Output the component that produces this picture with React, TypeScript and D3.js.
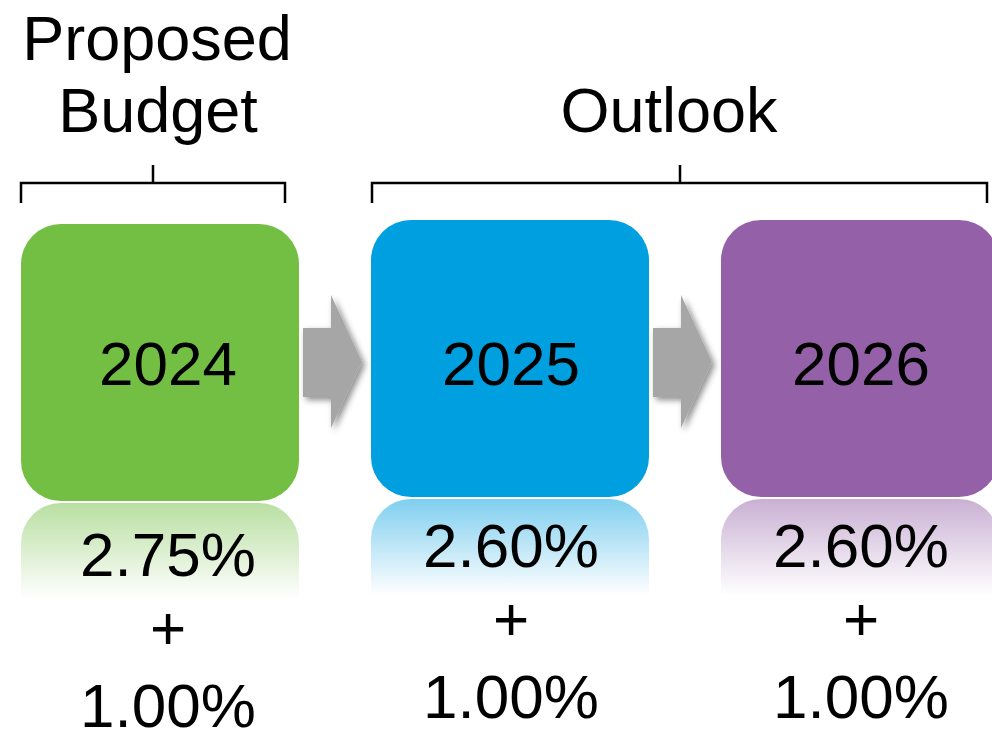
import React from "react";
import * as d3 from "d3";

const years = ["2024", "2025", "2026"];
const baseRates = ["2.75%", "2.60%", "2.60%"];
const extraRates = ["1.00%", "1.00%", "1.00%"];
const boxColors = ["#72bf44", "#009fdf", "#9461a8"];
const groupLabels = [["Proposed", "Budget"], ["Outlook"]];

const W = 992;
const H = 734;
const FONT = "'Liberation Sans', Arial, sans-serif";

export default function App() {
  const x = d3.scaleBand<string>().domain(years).range([21, 999]).paddingInner(72 / 350).paddingOuter(0);
  const bw = x.bandwidth();
  const boxTop = [224, 220, 220];
  const boxH = 277;
  const r = 40;
  const textDx = [8, 1, 1];
  const lowDy = [9, 0, 0];
  const reflH = 96;

  const roundRect = (x0: number, y0: number, w: number, h: number, rad: number) => {
    const p = d3.path();
    p.moveTo(x0 + rad, y0);
    p.lineTo(x0 + w - rad, y0);
    p.arcTo(x0 + w, y0, x0 + w, y0 + rad, rad);
    p.lineTo(x0 + w, y0 + h - rad);
    p.arcTo(x0 + w, y0 + h, x0 + w - rad, y0 + h, rad);
    p.lineTo(x0 + rad, y0 + h);
    p.arcTo(x0, y0 + h, x0, y0 + h - rad, rad);
    p.lineTo(x0, y0 + rad);
    p.arcTo(x0, y0, x0 + rad, y0, rad);
    p.closePath();
    return p.toString();
  };
  const topRounded = (x0: number, y0: number, w: number, h: number, rad: number) => {
    const p = d3.path();
    p.moveTo(x0, y0 + h);
    p.lineTo(x0, y0 + rad);
    p.arcTo(x0, y0, x0 + rad, y0, rad);
    p.lineTo(x0 + w - rad, y0);
    p.arcTo(x0 + w, y0, x0 + w, y0 + rad, rad);
    p.lineTo(x0 + w, y0 + h);
    p.closePath();
    return p.toString();
  };
  const arrow = (sx0: number) => {
    const p = d3.path();
    const shaftW = 28;
    const headLen = 31;
    p.moveTo(sx0, 328);
    p.lineTo(sx0 + shaftW, 328);
    p.lineTo(sx0 + shaftW, 295);
    p.lineTo(sx0 + shaftW + headLen, 362);
    p.lineTo(sx0 + shaftW, 428);
    p.lineTo(sx0 + shaftW, 397);
    p.lineTo(sx0, 397);
    p.closePath();
    return p.toString();
  };
  const bracket = (x0: number, x1: number, xm: number) => {
    const p = d3.path();
    p.moveTo(x0, 203);
    p.lineTo(x0, 183);
    p.lineTo(x1, 183);
    p.lineTo(x1, 203);
    p.moveTo(xm, 165);
    p.lineTo(xm, 183);
    return p.toString();
  };

  const arrowStarts = [303, 653];

  return (
    <svg width={W} height={H} style={{ position: "absolute", left: 0, top: 0, background: "#fff" }}>
      <defs>
        <filter id="shadow" x="-30%" y="-30%" width="160%" height="160%">
          <feDropShadow dx="3" dy="3" stdDeviation="3" floodColor="#000" floodOpacity="0.45" />
        </filter>
        {years.map((y, i) => (
          <linearGradient key={y} id={`refl${i}`} x1="0" y1="0" x2="0" y2="1">
            <stop offset="0" stopColor={boxColors[i]} stopOpacity={0.5} />
            <stop offset="1" stopColor={boxColors[i]} stopOpacity={0} />
          </linearGradient>
        ))}
      </defs>
      <rect width={W} height={H} fill="#fff" />

      <g fontFamily={FONT} fontSize={63} fill="#000" textAnchor="middle">
        <text x={157} y={60}>{groupLabels[0][0]}</text>
        <text x={158} y={132}>{groupLabels[0][1]}</text>
        <text x={669} y={132}>{groupLabels[1][0]}</text>
      </g>

      <path d={bracket(21, 285, 153)} fill="none" stroke="#000" strokeWidth={2.5} />
      <path d={bracket(372, 987, 680)} fill="none" stroke="#000" strokeWidth={2.5} />

      {arrowStarts.map((s, i) => (
        <path key={i} d={arrow(s)} fill="#a6a6a6" filter="url(#shadow)" />
      ))}

      {years.map((yr, i) => {
        const x0 = x(yr)!;
        const cx = x0 + bw / 2 + textDx[i];
        const by = boxTop[i];
        return (
          <g key={yr}>
            <path d={roundRect(x0, by, bw, boxH, r)} fill={boxColors[i]} />
            <path d={topRounded(x0, by + boxH + 2, bw, reflH, r)} fill={`url(#refl${i})`} />
            <g fontFamily={FONT} fontSize={62} fill="#000" textAnchor="middle">
              <text x={cx} y={385}>{yr}</text>
              <text x={cx} y={567 + lowDy[i]}>{baseRates[i]}</text>
              <text x={cx} y={640 + lowDy[i]}>+</text>
              <text x={cx} y={718 + lowDy[i]}>{extraRates[i]}</text>
            </g>
          </g>
        );
      })}
    </svg>
  );
}
